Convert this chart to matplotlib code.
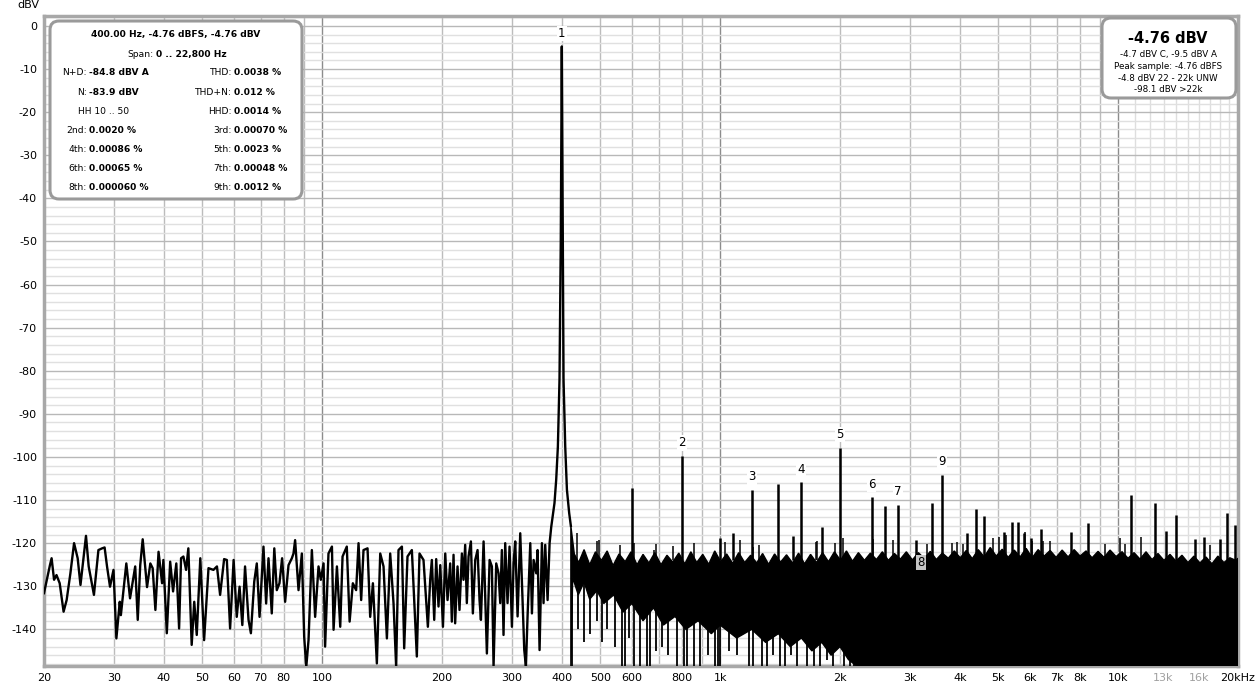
import numpy as np
import matplotlib.pyplot as plt
from matplotlib.patches import FancyBboxPatch
from matplotlib.ticker import NullLocator

plt.rcParams['font.family'] = ['DejaVu Sans']
plt.rcParams['axes.unicode_minus'] = False

# resolved part of the spectrum: 20 Hz up to the right flank of the fundamental
trace_freq = [20.0, 20.7, 20.9, 21.2, 21.5, 21.9, 22.4, 22.8, 23.3, 23.8, 24.3, 24.7,
              25.5, 25.9, 26.7, 27.4, 28.0, 28.4, 28.8, 29.3, 29.9, 30.4, 31.0, 31.2,
              32.2, 32.9, 33.9, 34.4, 34.9, 35.4, 36.3, 37.0, 37.5, 38.1, 38.8, 39.6,
              39.9, 40.7, 41.5, 42.2, 43.0, 43.7, 44.2, 44.8, 45.5, 46.1, 47.0, 47.7,
              48.4, 49.4, 50.5, 51.8, 53.3, 54.4, 55.4, 56.7, 57.6, 58.7, 59.9, 61.0,
              62.0, 63.0, 64.0, 65.3, 66.2, 67.5, 68.5, 69.6, 71.2, 72.3, 73.3, 74.7,
              75.8, 76.9, 78.1, 79.3, 80.7, 82.3, 83.9, 84.7, 85.5, 87.2, 88.9, 90.1,
              91.2, 92.4, 94.2, 96.0, 97.9, 99.2, 100.8, 101.7, 103.7, 105.8, 106.8, 108.9,
              111.0, 112.5, 115.3, 117.2, 119.4, 121.7, 123.4, 125.3, 127.0, 130.0, 132.0, 134.1,
              137.2, 139.9, 142.6, 145.4, 148.2, 151.1, 153.4, 155.5, 158.6, 160.7, 163.8, 168.0,
              172.9, 175.6, 179.7, 184.3, 186.8, 188.6, 191.2, 193.4, 196.0, 198.0, 201.1, 203.8,
              206.5, 209.7, 211.7, 213.8, 215.8, 218.8, 221.3, 224.4, 226.5, 228.7, 230.9, 233.2,
              236.4, 239.1, 242.4, 245.7, 248.5, 250.5, 254.4, 256.8, 259.3, 263.4, 266.9, 269.5,
              273.7, 277.4, 280.1, 282.8, 285.5, 288.3, 292.2, 295.6, 299.7, 302.6, 305.5, 309.7,
              314.5, 318.2, 321.9, 325.0, 328.1, 333.3, 336.5, 339.8, 345.0, 347.7, 351.7, 356.5,
              359.9, 363.4, 368.4, 372.7, 376.3, 383.4, 387.2, 391.0, 394.7, 397.6, 400.0, 402.4,
              404.0, 408.0, 412.0, 417.4, 421.5]
trace_db = [-131.6, -125.1, -123.5, -128.5, -127.4, -129.3, -135.9, -133.2, -127.0, -120.0, -123.5, -129.7,
            -118.3, -125.4, -132.0, -121.6, -121.2, -121.0, -125.4, -130.1, -126.2, -142.1, -133.6, -136.7,
            -124.7, -132.8, -125.4, -137.8, -125.1, -119.1, -130.2, -124.7, -125.8, -135.5, -122.0, -129.3,
            -123.9, -140.9, -124.3, -131.2, -124.7, -139.8, -123.5, -123.1, -126.2, -121.2, -143.6, -133.6,
            -141.3, -123.5, -142.5, -125.8, -126.2, -125.4, -132.0, -123.7, -123.9, -139.8, -123.9, -137.1,
            -130.1, -139.0, -125.4, -137.8, -140.9, -128.9, -124.7, -137.1, -120.8, -134.0, -123.5, -136.3,
            -121.2, -130.9, -129.3, -123.5, -133.6, -125.1, -123.5, -122.4, -119.3, -130.9, -122.4, -141.7,
            -148.7, -142.5, -121.6, -137.1, -125.4, -128.5, -124.7, -144.0, -122.4, -120.8, -140.1, -125.4,
            -139.4, -123.1, -120.8, -138.2, -129.3, -130.9, -120.0, -133.2, -121.6, -121.2, -137.1, -129.3,
            -147.9, -122.4, -125.4, -142.1, -122.4, -134.0, -148.7, -121.6, -120.8, -144.4, -123.1, -121.6,
            -146.3, -122.4, -123.9, -139.4, -128.5, -123.9, -137.8, -123.7, -134.7, -125.1, -139.4, -122.4,
            -133.2, -124.7, -138.2, -122.7, -138.6, -125.4, -135.5, -122.4, -128.5, -120.4, -133.9, -123.1,
            -119.6, -136.3, -123.9, -121.6, -133.2, -137.8, -119.6, -132.4, -145.6, -123.9, -125.4, -148.6,
            -124.7, -127.0, -133.9, -121.6, -141.3, -120.0, -133.9, -120.8, -139.4, -124.7, -119.6, -137.0,
            -117.7, -131.6, -144.8, -148.6, -137.0, -120.0, -136.3, -123.9, -127.0, -121.6, -144.8, -120.0,
            -133.9, -120.4, -133.2, -120.0, -116.2, -110.7, -105.3, -97.6, -82.0, -50.0, -4.76, -50.0,
            -82.0, -97.6, -107.6, -113.0, -116.0]

# dense noise floor above the fundamental: upper and lower edge of the black band
floor_top_freq = [421.5, 430, 441, 455, 470, 486, 503, 520, 538, 557,
                  577, 597, 618, 640, 662, 685, 710, 735, 760, 787,
                  815, 844, 873, 904, 936, 969, 1003, 1038, 1075, 1113,
                  1152, 1193, 1235, 1278, 1323, 1370, 1418, 1468, 1520, 1574,
                  1629, 1687, 1746, 1808, 1871, 1937, 2006, 2076, 2150, 2225,
                  2304, 2385, 2469, 2556, 2646, 2740, 2836, 2936, 3040, 3147,
                  3258, 3373, 3492, 3615, 3742, 3874, 4011, 4152, 4299, 4450,
                  4607, 4770, 4938, 5112, 5292, 5479, 5672, 5872, 6079, 6294,
                  6516, 6745, 6983, 7230, 7485, 7749, 8022, 8305, 8598, 8901,
                  9215, 9540, 9877, 10225, 10586, 10960, 11346, 11747, 12161, 12590,
                  13034, 13494, 13970, 14463, 14973, 15501, 16048, 16614, 17200, 17807,
                  18435, 19085, 19758, 20000]
floor_top_db = [-116.0, -122.5, -124.5, -121.5, -125.0, -122.0, -124.0, -121.8, -125.2, -122.5,
                -124.3, -122.0, -125.0, -122.6, -124.6, -122.2, -125.0, -122.8, -124.4, -122.3,
                -124.8, -122.0, -124.5, -122.6, -124.9, -121.8, -124.3, -122.5, -124.7, -122.2,
                -124.5, -122.8, -124.6, -122.4, -124.9, -122.5, -124.4, -122.7, -124.6, -122.3,
                -124.8, -122.6, -124.5, -122.2, -124.3, -122.0, -124.0, -121.8, -124.2, -122.2,
                -124.0, -122.3, -123.8, -122.0, -124.0, -122.4, -123.7, -122.0, -123.9, -122.2,
                -123.6, -121.9, -123.8, -122.3, -123.5, -121.8, -123.4, -121.7, -123.6, -121.5,
                -123.2, -121.0, -123.0, -121.4, -123.3, -121.6, -123.2, -121.2, -123.4, -121.5,
                -123.0, -121.7, -123.3, -121.6, -123.2, -121.5, -123.0, -121.8, -123.4, -121.9,
                -123.3, -121.6, -123.1, -122.0, -123.5, -122.2, -123.7, -122.0, -123.8, -122.4,
                -124.0, -122.6, -124.2, -122.8, -124.5, -123.0, -124.6, -123.2, -124.8, -123.0,
                -124.5, -123.4, -124.0, -123.5]
floor_bot_freq = [421.5, 426, 440, 455, 470, 490, 510, 540, 570, 600,
                  640, 680, 720, 770, 820, 880, 950, 1000, 1100, 1200,
                  1300, 1400, 1500, 1600, 1700, 1800, 1900, 2000, 2100, 2200,
                  20000]
floor_bot_db = [-148.5, -128.0, -132.0, -129.0, -133.0, -131.0, -134.0, -132.0, -136.0, -134.0,
                -138.0, -135.0, -139.0, -137.0, -140.0, -138.0, -141.0, -139.0, -142.0, -140.0,
                -143.0, -141.0, -144.0, -142.0, -145.0, -143.0, -146.0, -144.0, -147.0, -148.5,
                -148.5]

# thin noise spikes sticking out of the band
floor_spike_freq = [437, 490, 495, 560, 606, 681, 688, 760, 857, 1029, 1121, 1212, 1250, 1740,
                    1750, 1940, 2040, 2420, 2720, 3300, 3820, 3930, 4070, 4860, 5020, 5230, 5830,
                    6060, 6490, 6740, 9280, 10100, 10400, 11400, 17000]
floor_spike_db = [-117.7, -119.4, -119.3, -120.5, -120.0, -121.6, -120.3, -120.6, -120.0, -119.8,
                  -119.3, -120.8, -120.5, -119.8, -119.6, -120.0, -118.9, -119.1, -119.3, -120.3,
                  -120.0, -119.8, -120.3, -118.9, -118.6, -118.1, -117.3, -119.5, -119.5, -119.6,
                  -120.3, -118.9, -120.3, -118.5, -120.5]

# deep dips of the noise floor below the solid band
dip_freq = [424, 440, 455, 470, 490, 505, 520, 545, 566, 577, 590, 606, 630, 654, 667, 690, 715,
            740, 778, 809, 825, 857, 891, 930, 971, 990, 1000, 1050, 1100, 1178, 1212, 1273, 1310,
            1360, 1415, 1457, 1510, 1558, 1651, 1716, 1784, 1850, 1926, 2041, 2121, 2163]
dip_db = [-148.5, -140, -143, -141, -138, -143, -140, -144, -148.5, -148.5, -142, -148.5, -148.5,
          -148.5, -148.5, -145, -144, -146, -148.5, -148.5, -148.5, -148.5, -148.5, -146, -148.5,
          -148.5, -148.5, -145, -146, -148.5, -148.5, -148.5, -148.5, -146, -148.5, -148.5, -146,
          -148.5, -148.5, -148.5, -148.5, -147, -148.5, -148.5, -148.5, -148.5]

# non-harmonic spurs
spur_freq = [600, 1000, 1075, 1400, 1525, 1800, 2600, 3100, 3400, 4170, 4400, 4600, 5170, 5400,
             5600, 5800, 6030, 6400, 7600, 8400, 10800, 12400, 13200, 14000, 15600, 16400, 18000,
             18800, 19600]
spur_db = [-107.3, -118.8, -117.7, -106.3, -118.3, -116.2, -111.3, -119.3, -110.7, -117.7, -112.0,
           -113.7, -117.5, -115.1, -115.1, -117.7, -118.9, -116.7, -117.5, -115.4, -108.8, -110.6,
           -117.2, -113.5, -119.0, -118.5, -119.0, -113.0, -115.9]

# harmonics (8th only marked at the noise level)
harm_num = [1, 2, 3, 4, 5, 6, 7, 8, 9]
harm_freq = [400, 800, 1200, 1600, 2000, 2400, 2800, 3200, 3600]
harm_db = [-4.76, -99.8, -107.7, -105.9, -97.9, -109.4, -111.1, -124.5, -104.2]

xtick_vals = [20, 30, 40, 50, 60, 70, 80, 100, 200, 300, 400, 500, 600, 800,
              1000, 2000, 3000, 4000, 5000, 6000, 7000, 8000, 10000, 13000, 16000, 20000]
xtick_text = ['20', '30', '40', '50', '60', '70', '80', '100', '200', '300', '400', '500',
              '600', '800', '1k', '2k', '3k', '4k', '5k', '6k', '7k', '8k', '10k', '13k', '16k', '20kHz']
ytick_vals = list(range(0, -150, -10))

info_title = '400.00 Hz, -4.76 dBFS, -4.76 dBV'
info_span = ('Span:', '0 .. 22,800 Hz')
info_rows = [('N+D:', '-84.8 dBV A', 'THD:', '0.0038 %'),
             ('N:', '-83.9 dBV', 'THD+N:', '0.012 %'),
             ('HH 10 .. 50', '', 'HHD:', '0.0014 %'),
             ('2nd:', '0.0020 %', '3rd:', '0.00070 %'),
             ('4th:', '0.00086 %', '5th:', '0.0023 %'),
             ('6th:', '0.00065 %', '7th:', '0.00048 %'),
             ('8th:', '0.000060 %', '9th:', '0.0012 %')]
level_main = '-4.76 dBV'
level_lines = ['-4.7 dBV C, -9.5 dBV A', 'Peak sample: -4.76 dBFS',
               '-4.8 dBV 22 - 22k UNW', '-98.1 dBV >22k']

W, H = 1260, 691
fig = plt.figure(figsize=(W / 100, H / 100), dpi=100)
ax = fig.add_axes([44 / W, 1 - 666 / H, (1238 - 44) / W, 650 / H])
ax.set_xscale('log')
ax.set_xlim(20, 20000)
ax.set_ylim(-148.5, 2.3)

# grid
for f in [100, 1000, 10000]:
    ax.axvline(f, color='#8c8c8c', lw=1.0, zorder=0)
for d in (10, 100, 1000):
    for k in range(2, 10):
        if k * d > 20:
            ax.axvline(k * d, color='#bcbcbc', lw=1.0, zorder=0)
for f in range(11000, 20000, 1000):
    ax.axvline(f, color='#dedede', lw=1.0, zorder=0)
for v in range(-148, 3, 2):
    if v % 10:
        ax.axhline(v, color='#e0e0e0', lw=1.0, zorder=0)
    else:
        ax.axhline(v, color='#b8b8b8', lw=1.0, zorder=0)

# spectrum
ax.plot(trace_freq, trace_db, color='black', lw=1.7, zorder=3)
ax.fill(floor_top_freq + floor_bot_freq[::-1], floor_top_db + floor_bot_db[::-1],
        facecolor='black', edgecolor='black', lw=1.0, zorder=3)
ax.vlines(dip_freq, dip_db, -128, color='black', lw=1.3, zorder=3)
ax.vlines(floor_spike_freq, -124, floor_spike_db, color='black', lw=1.1, zorder=3)
ax.vlines(spur_freq, -124, spur_db, color='black', lw=1.8, zorder=3)
ax.vlines(harm_freq[1:7] + harm_freq[8:], -124, harm_db[1:7] + harm_db[8:],
          color='black', lw=1.8, zorder=3)

for n, f, db in zip(harm_num, harm_freq, harm_db):
    if n == 8:
        ax.text(f, db, str(n), ha='center', va='center', fontsize=8.5, zorder=5,
                bbox=dict(boxstyle='square,pad=0.12', fc='#c4c4c4', ec='none'))
    else:
        ax.annotate(str(n), (f, db), xytext=(0, 9.5), textcoords='offset points',
                    ha='center', va='center', fontsize=8.5, zorder=5,
                    bbox=dict(boxstyle='square,pad=0.1', fc='white', ec='none'))

ax.xaxis.set_minor_locator(NullLocator())
ax.set_xticks(xtick_vals)
ax.set_xticklabels(xtick_text)
for lab, t in zip(ax.get_xticklabels(), xtick_text):
    if t in ('13k', '16k'):
        lab.set_color('#a0a0a0')
ax.set_yticks(ytick_vals)
ax.set_yticklabels([str(v) for v in ytick_vals])
ax.tick_params(length=0, labelsize=8, pad=5)
for sp in ax.spines.values():
    sp.set_color('#a8a8a8')
    sp.set_linewidth(2.5)

fig.text(28 / W, 1 - 5 / H, 'dBV', ha='center', va='center', fontsize=8)

# overlay in pixel units for the readout boxes
ov = fig.add_axes([0, 0, 1, 1], zorder=10)
ov.set_xlim(0, W)
ov.set_ylim(H, 0)
ov.axis('off')
ov.patch.set_alpha(0)

ov.add_patch(FancyBboxPatch((50, 21), 252, 178, boxstyle='round,pad=0,rounding_size=9',
                            fc='white', ec='#9a9a9a', lw=2.2))
fs = 6.6
ov.text(176, 34.5, info_title, ha='center', va='center', fontsize=fs, fontweight='bold')
ov.text(153, 54, info_span[0], ha='right', va='center', fontsize=fs)
ov.text(156, 54, info_span[1], ha='left', va='center', fontsize=fs, fontweight='bold')
row_y = [72.7, 92, 111.5, 130.3, 149.3, 168.3, 187.3]
for y, (l1, v1, l2, v2) in zip(row_y, info_rows):
    if v1:
        ov.text(86.5, y, l1, ha='right', va='center', fontsize=fs)
        ov.text(89, y, v1, ha='left', va='center', fontsize=fs, fontweight='bold')
    else:
        ov.text(103.5, y, l1, ha='center', va='center', fontsize=fs)
    ov.text(232, y, l2, ha='right', va='center', fontsize=fs)
    ov.text(234.5, y, v2, ha='left', va='center', fontsize=fs, fontweight='bold')

ov.add_patch(FancyBboxPatch((1102, 18), 134, 80, boxstyle='round,pad=0,rounding_size=9',
                            fc='white', ec='#9a9a9a', lw=2.2))
ov.text(1168, 38, level_main, ha='center', va='center', fontsize=10.5, fontweight='bold')
for y, t in zip([54.3, 66.5, 78.3, 89.5], level_lines):
    ov.text(1168, y, t, ha='center', va='center', fontsize=6.3)

fig.savefig('out.png', dpi=100)
